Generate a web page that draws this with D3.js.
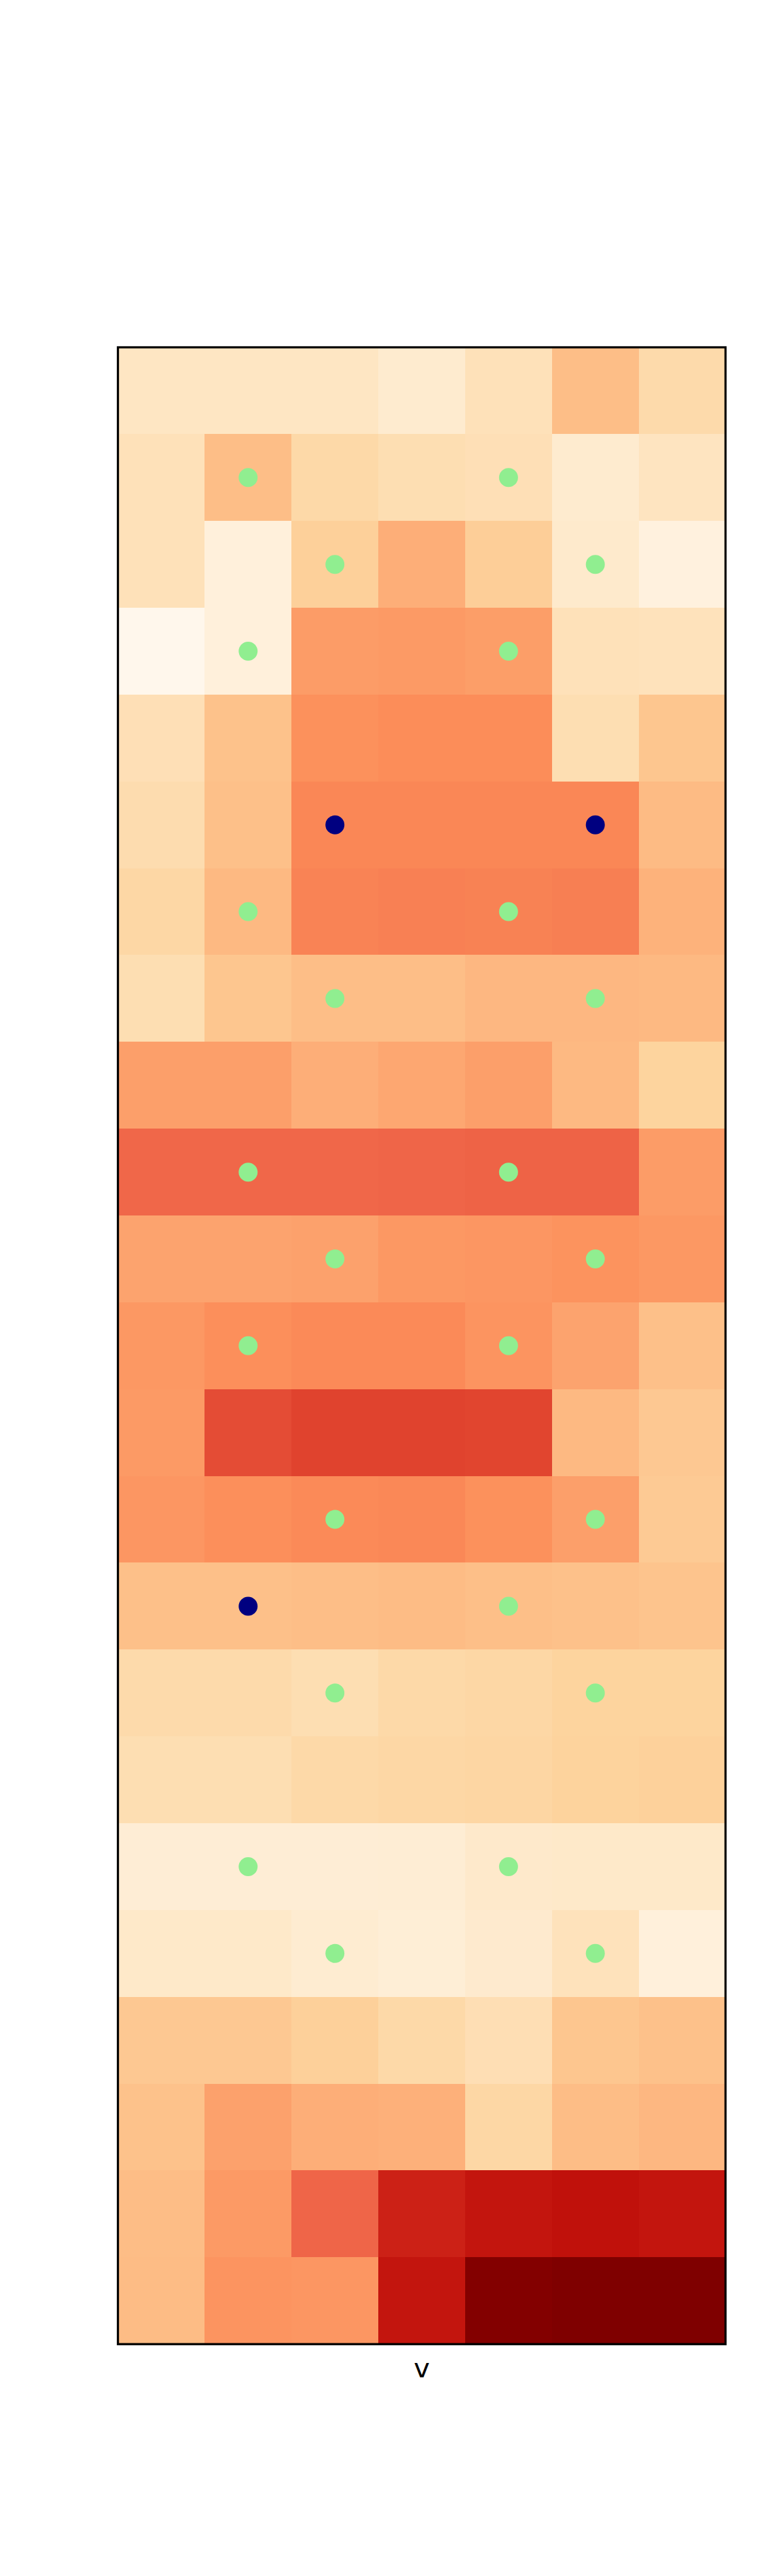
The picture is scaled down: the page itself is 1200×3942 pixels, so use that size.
<!DOCTYPE html>
<html>
<head>
<meta charset="utf-8">
<script src="https://cdn.jsdelivr.net/npm/d3@7"></script>
<style>
  html, body { margin: 0; padding: 0; background: #ffffff; }
  svg { display: block; }
</style>
</head>
<body>
<div id="chart"></div>
<script>
// ---- data ----
const columns = [0, 1, 2, 3, 4, 5, 6];
const rows = d3.range(23);
const xLabel = "v";

const values = [
  [0.14, 0.14, 0.14, 0.10, 0.17, 0.36, 0.21],
  [0.17, 0.36, 0.22, 0.19, 0.18, 0.10, 0.15],
  [0.17, 0.06, 0.27, 0.41, 0.28, 0.11, 0.05],
  [0.00, 0.06, 0.46, 0.465, 0.455, 0.17, 0.165],
  [0.18, 0.34, 0.49, 0.50, 0.50, 0.19, 0.32],
  [0.20, 0.35, 0.52, 0.52, 0.52, 0.52, 0.375],
  [0.23, 0.38, 0.53, 0.54, 0.535, 0.545, 0.40],
  [0.19, 0.32, 0.36, 0.36, 0.385, 0.385, 0.38],
  [0.45, 0.45, 0.41, 0.43, 0.45, 0.38, 0.25],
  [0.62, 0.62, 0.62, 0.625, 0.63, 0.63, 0.46],
  [0.44, 0.44, 0.445, 0.47, 0.475, 0.485, 0.47],
  [0.47, 0.495, 0.51, 0.51, 0.48, 0.44, 0.35],
  [0.465, 0.684, 0.705, 0.705, 0.70, 0.38, 0.31],
  [0.475, 0.495, 0.51, 0.515, 0.49, 0.45, 0.30],
  [0.35, 0.35, 0.36, 0.37, 0.355, 0.345, 0.33],
  [0.21, 0.21, 0.19, 0.22, 0.23, 0.25, 0.25],
  [0.19, 0.19, 0.22, 0.23, 0.235, 0.255, 0.265],
  [0.08, 0.08, 0.08, 0.085, 0.115, 0.12, 0.12],
  [0.12, 0.12, 0.095, 0.075, 0.105, 0.165, 0.06],
  [0.31, 0.31, 0.27, 0.22, 0.185, 0.32, 0.345],
  [0.34, 0.445, 0.41, 0.405, 0.23, 0.365, 0.385],
  [0.365, 0.465, 0.625, 0.788, 0.82, 0.83, 0.82],
  [0.37, 0.48, 0.475, 0.82, 0.99, 1.00, 1.00]
];

// markers: [row, column]
const greenDots = [
  [1, 1], [1, 4], [2, 2], [2, 5], [3, 1], [3, 4],
  [6, 1], [6, 4], [7, 2], [7, 5],
  [9, 1], [9, 4], [10, 2], [10, 5], [11, 1], [11, 4],
  [13, 2], [13, 5], [14, 4], [15, 2], [15, 5],
  [17, 1], [17, 4], [18, 2], [18, 5]
];
const navyDots = [[5, 2], [5, 5], [14, 1]];

// matplotlib OrRd stops
const orrdStops = ["#fff7ec", "#fee8c8", "#fdd49e", "#fdbb84", "#fc8d59",
                   "#ef6548", "#d7301f", "#b30000", "#7f0000"];

// ---- layout ----
const W = 1200, H = 3942;
const x0 = 180.5, x1 = 1110.5, y0 = 531.5, y1 = 3587.2;

const svg = d3.select("#chart").append("svg")
  .attr("width", W).attr("height", H);

const x = d3.scaleBand().domain(columns).range([x0, x1]).padding(0);
const y = d3.scaleBand().domain(rows).range([y0, y1]).padding(0);
const color = d3.scaleLinear()
  .domain(d3.range(9).map(i => i / 8))
  .range(orrdStops)
  .interpolate(d3.interpolateRgb)
  .clamp(true);

const cells = [];
values.forEach((row, r) => row.forEach((v, c) => cells.push({ r, c, v })));

svg.append("g").selectAll("rect").data(cells).join("rect")
  .attr("x", d => x(d.c))
  .attr("y", d => y(d.r))
  .attr("width", x.bandwidth() + 0.5)
  .attr("height", y.bandwidth() + 0.5)
  .attr("fill", d => color(d.v))
  .attr("shape-rendering", "crispEdges");

const dotR = 14.5;
svg.append("g").selectAll("circle.g").data(greenDots).join("circle")
  .attr("cx", d => x(d[1]) + x.bandwidth() / 2)
  .attr("cy", d => y(d[0]) + y.bandwidth() / 2)
  .attr("r", dotR)
  .attr("fill", "#90ee90");

svg.append("g").selectAll("circle.n").data(navyDots).join("circle")
  .attr("cx", d => x(d[1]) + x.bandwidth() / 2)
  .attr("cy", d => y(d[0]) + y.bandwidth() / 2)
  .attr("r", dotR)
  .attr("fill", "#000080");

// frame
svg.append("rect")
  .attr("x", x0).attr("y", y0)
  .attr("width", x1 - x0).attr("height", y1 - y0)
  .attr("fill", "none")
  .attr("stroke", "#000")
  .attr("stroke-width", 3.33)
  .attr("stroke-linejoin", "miter");

// x label
svg.append("text")
  .attr("x", (x0 + x1) / 2)
  .attr("y", 3638)
  .attr("text-anchor", "middle")
  .attr("font-family", "DejaVu Sans, sans-serif")
  .attr("font-size", 41.67)
  .attr("fill", "#000")
  .text(xLabel);
</script>
</body>
</html>
